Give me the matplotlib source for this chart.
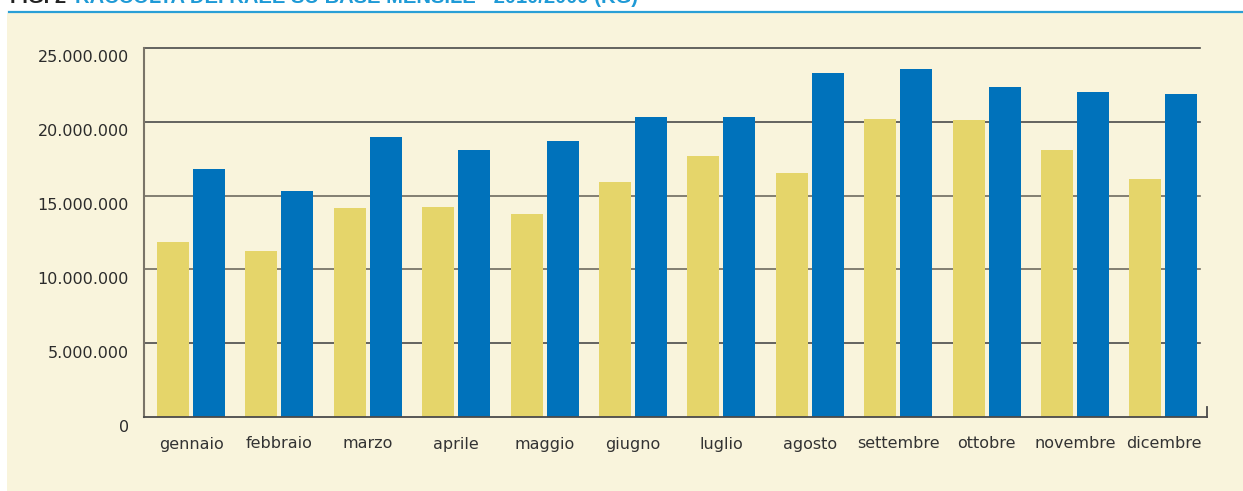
import matplotlib
matplotlib.use("Agg")
import matplotlib.pyplot as plt
from matplotlib.patches import Rectangle
from matplotlib.lines import Line2D

mesi = ["gennaio", "febbraio", "marzo", "aprile", "maggio", "giugno",
        "luglio", "agosto", "settembre", "ottobre", "novembre", "dicembre"]
anno_2009 = [11.86e6, 11.25e6, 14.16e6, 14.23e6, 13.75e6, 15.92e6,
             17.68e6, 16.53e6, 20.19e6, 20.12e6, 18.09e6, 16.12e6]
anno_2010 = [16.80e6, 15.31e6, 18.97e6, 18.09e6, 18.70e6, 20.33e6,
             20.33e6, 23.31e6, 23.58e6, 22.36e6, 22.02e6, 21.88e6]
y_ticks = [0, 5e6, 10e6, 15e6, 20e6, 25e6]
y_labels = ["0", "5.000.000", "10.000.000", "15.000.000", "20.000.000", "25.000.000"]
titolo_fig = "FIG. 2 "
titolo = "RACCOLTA DEI RAEE SU BASE MENSILE - 2010/2009 (KG)"

W, H = 1243, 491
fig = plt.figure(figsize=(W / 100, H / 100), dpi=100)
fig.patch.set_facecolor("white")

cream = "#f9f4dc"
fig.patches.append(Rectangle((7 / W, 0), 1 - 7 / W, 1 - 13 / H, transform=fig.transFigure,
                             facecolor=cream, edgecolor="none", zorder=-5))
fig.lines.append(Line2D([9 / W, 1], [1 - 12 / H, 1 - 12 / H], transform=fig.transFigure,
                        color="#2a9fd6", lw=1.6, zorder=-4))

fig.text(10 / W, 1 - 3 / H, titolo_fig, color="#222222", fontsize=14.5, fontweight="bold",
         family="Liberation Sans", va="baseline", ha="left")
fig.text(75 / W, 1 - 3 / H, titolo, color="#1f9ad6", fontsize=14.5, fontweight="bold",
         family="Liberation Sans", va="baseline", ha="left")

left, right, bottom, top = 144 / W, 1207 / W, 1 - 417 / H, 1 - 48 / H
ax = fig.add_axes([left, bottom, right - left, top - bottom], zorder=1)
ax.set_facecolor("none")

x = list(range(len(mesi)))
w = 0.362
off = 0.2036
ax.bar([i - off for i in x], anno_2009, width=w, color="#e5d56a", zorder=3)
ax.bar([i + off for i in x], anno_2010, width=w, color="#0072bb", zorder=3)

xl, xr = -0.5317, 11.493
ax.set_xlim(xl, xr)
ax.set_ylim(0, 25e6)

grid_end = 11.414
for v in y_ticks[1:]:
    c = "#4a4a4a" if v in (20e6, 25e6, 5e6) else "#6e6a60"
    ax.plot([xl, grid_end], [v, v], color=c, lw=1.2, zorder=2, clip_on=False)

for s in ["top", "right", "bottom", "left"]:
    ax.spines[s].set_visible(False)
ax.plot([xl, xl], [0, 25e6], color="#7a7468", lw=1.5, zorder=4, clip_on=False)
ax.plot([xl, xr], [0, 0], color="#4a4a4a", lw=1.3, zorder=4, clip_on=False)
ax.plot([xr, xr], [0, 0.68e6], color="#4a4a4a", lw=1.3, zorder=4, clip_on=False)

ax.set_xticks([])
ax.set_yticks([])

for v, lab in zip(y_ticks, y_labels):
    ax.annotate(lab, xy=(0, v), xycoords=("axes fraction", "data"),
                xytext=(-15, -10), textcoords="offset pixels",
                ha="right", va="center", fontsize=11.5, color="#2b2b2b",
                family="DejaVu Sans")

for i, m in enumerate(mesi):
    ax.annotate(m, xy=(i, 0), xycoords="data", xytext=(0, -27),
                textcoords="offset pixels", ha="center", va="center",
                fontsize=11.5, color="#333333", family="DejaVu Sans")

fig.savefig("out.png", dpi=100)
